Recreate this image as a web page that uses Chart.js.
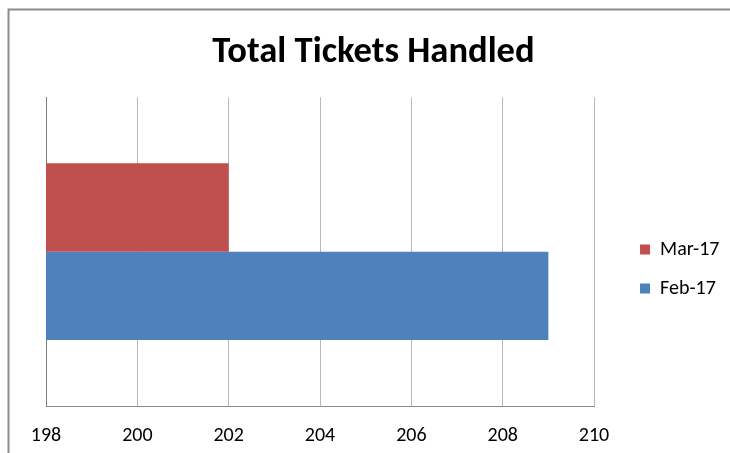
<!DOCTYPE html>
<html>
<head>
<meta charset="utf-8">
<script src="https://cdn.jsdelivr.net/npm/chart.js@4"></script>
<style>
  html, body { margin: 0; padding: 0; background: #fff; }
  #wrap { width: 730px; height: 453px; position: relative; }
</style>
</head>
<body>
<div id="wrap"><canvas id="c" width="730" height="453"></canvas></div>
<script>
const categories = ["Total"];
const seriesNames = ["Mar-17", "Feb-17"];
const marValues = [202];
const febValues = [209];
const xTicks = [198, 200, 202, 204, 206, 208, 210];

const FONT = "Carlito, Lato, 'Noto Sans', sans-serif";

const frame = {
  id: 'frame',
  beforeDraw(chart) {
    const ctx = chart.ctx;
    ctx.save();
    ctx.fillStyle = '#fff';
    ctx.fillRect(0, 0, chart.width, chart.height);
    ctx.strokeStyle = '#8c8c8c';
    ctx.lineWidth = 2;
    ctx.beginPath();
    ctx.moveTo(8.5, chart.height);
    ctx.lineTo(8.5, 9.5);
    ctx.lineTo(chart.width, 9.5);
    ctx.stroke();
    ctx.restore();
  }
};

new Chart(document.getElementById('c'), {
  type: 'bar',
  data: {
    labels: categories,
    datasets: [
      { label: seriesNames[0], data: marValues, backgroundColor: '#C0504D', borderWidth: 0 },
      { label: seriesNames[1], data: febValues, backgroundColor: '#4F81BD', borderWidth: 0 }
    ]
  },
  plugins: [frame],
  options: {
    indexAxis: 'y',
    responsive: false,
    animation: false,
    devicePixelRatio: 1,
    layout: { padding: { left: 17.5, right: 0.5, top: 5, bottom: 5 } },
    datasets: { bar: { categoryPercentage: 0.573, barPercentage: 1.0 } },
    plugins: {
      title: {
        display: true,
        text: 'Total Tickets Handled',
        color: '#000',
        font: { family: FONT, size: 36.6, weight: 'bold', lineHeight: 1.2 },
        padding: { top: 26, bottom: 22.4 }
      },
      legend: {
        position: 'right',
        align: 'center',
        title: { display: true, text: ' ', font: { size: 10, lineHeight: 1 }, padding: { top: 75, bottom: 0 } },
        labels: {
          color: '#000',
          font: { family: FONT, size: 20 },
          boxWidth: 10,
          boxHeight: 10,
          padding: 19,
          generateLabels(chart) {
            return chart.data.datasets.map((d, i) => ({
              text: d.label, fillStyle: d.backgroundColor, strokeStyle: d.backgroundColor,
              lineWidth: 0, datasetIndex: i, hidden: false, fontColor: '#000'
            }));
          }
        }
      },
      tooltip: { enabled: false }
    },
    scales: {
      x: {
        type: 'linear',
        min: 198,
        max: 210,
        afterBuildTicks(scale) { scale.ticks = xTicks.map(v => ({ value: v })); },
        afterFit(scale) { scale.height = 42; },
        ticks: { color: '#000', font: { family: FONT, size: 20, lineHeight: 1.2 }, padding: 18 },
        grid: { color: '#b8b8b8', drawTicks: false, lineWidth: 1 },
        border: { display: true, color: '#8a8a8a', width: 1 }
      },
      y: {
        afterFit(scale) { scale.width = 28.5; },
        ticks: { display: false },
        grid: { display: false, drawTicks: false },
        border: { display: true, color: '#7f7f7f', width: 1 }
      },
      gap: {
        axis: 'y',
        position: 'right',
        display: true,
        ticks: { display: false },
        grid: { display: false, drawTicks: false },
        border: { display: false },
        afterFit(scale) { scale.width = 27; }
      }
    }
  }
});
</script>
</body>
</html>
